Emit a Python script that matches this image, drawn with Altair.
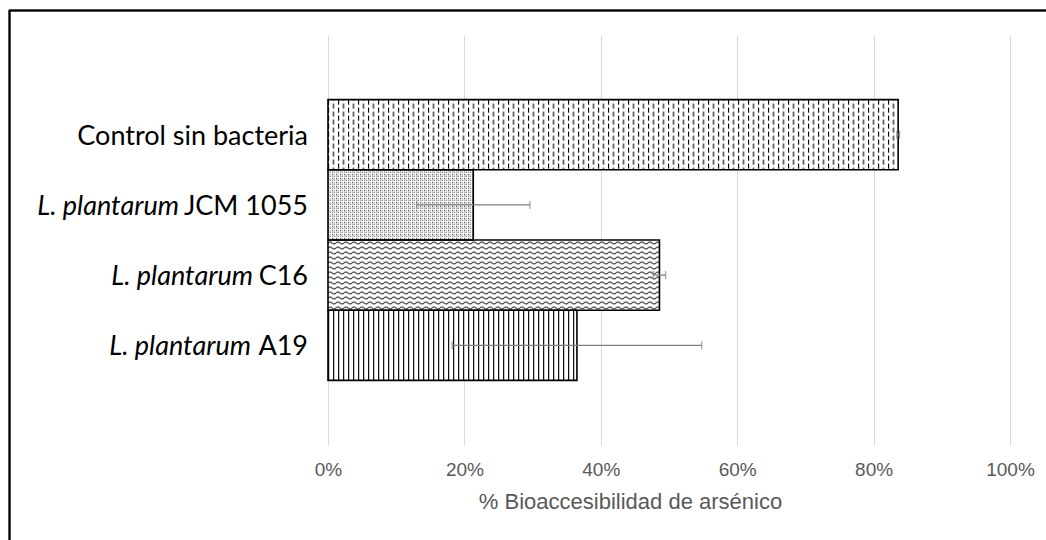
import urllib.parse

import altair as alt
import pandas as pd

# Bar categories (top to bottom), split into italic species part and plain strain part
categories = ["Control sin bacteria", "L. plantarum JCM 1055", "L. plantarum C16", "L. plantarum A19"]
label_italic = ["", "L. plantarum", "L. plantarum", "L. plantarum"]
label_plain = ["Control sin bacteria", "JCM 1055", "C16", "A19"]

# Arsenic bioaccessibility (fraction) and its standard deviation
values = [0.836, 0.213, 0.486, 0.365]
errors = [0.002, 0.083, 0.009, 0.183]

x_ticks = [0, 0.2, 0.4, 0.6, 0.8, 1.0]

FONT = "Lato"
LABEL_SIZE = 27
AXIS_FONT = "Liberation Sans"
GRAY = "#595959"


def pattern_uri(tile_w, tile_h, body):
    """Fill texture as an SVG data URI, tiled at fixed pixel size over a white ground."""
    svg = (
        "<svg xmlns='http://www.w3.org/2000/svg' width='100%' height='100%'>"
        f"<defs><pattern id='p' width='{tile_w}' height='{tile_h}' patternUnits='userSpaceOnUse'>"
        f"{body}</pattern></defs>"
        "<rect width='100%' height='100%' fill='white'/>"
        "<rect width='100%' height='100%' fill='url(#p)'/></svg>"
    )
    return "data:image/svg+xml;charset=utf-8," + urllib.parse.quote(svg)


patterns = [
    # dashed vertical
    pattern_uri(10, 8, "<path d='M0.5 0V5M5.5 4V8M5.5 0V1' stroke='#000' stroke-width='1.1'/>"),
    # fine dots
    pattern_uri(4, 4, "<rect x='0' y='0' width='1' height='1' fill='#111'/>"
                      "<rect x='2' y='2' width='1' height='1' fill='#111'/>"
                      "<rect x='2' y='0' width='1' height='1' fill='#888'/>"
                      "<rect x='0' y='2' width='1' height='1' fill='#888'/>"),
    # waves
    pattern_uri(8, 5, "<path d='M0 3 Q2 1 4 3 T8 3' fill='none' stroke='#111' stroke-width='1'/>"),
    # vertical lines
    pattern_uri(5, 4, "<rect x='0' y='0' width='1.1' height='4' fill='#000'/>"),
]

df = pd.DataFrame({
    "cat": categories,
    "ital": label_italic,
    "plain": label_plain,
    "val": values,
    "err": errors,
    "pat": patterns,
})

x_scale = alt.Scale(domain=[0, 1], nice=False, zero=True)
y_enc = alt.Y("cat:N", sort=categories, axis=None,
              scale=alt.Scale(paddingInner=0, paddingOuter=0.92))

base = alt.Chart(df)

textures = base.mark_image(aspect=False).encode(
    x=alt.X(
        "val:Q", scale=x_scale,
        axis=alt.Axis(
            values=x_ticks, format=".0%", grid=True, gridColor="#d9d9d9", gridWidth=1,
            domain=False, ticks=False, labelColor=GRAY, labelFont=AXIS_FONT,
            labelFontSize=19, labelPadding=15, labelAlign="center", labelFlush=False,
            title="% Bioaccesibilidad de arsénico",
            titleColor=GRAY, titleFont=AXIS_FONT, titleFontSize=22, titleFontWeight="normal",
            titlePadding=12, titleX=302, titleAlign="center", titleAnchor="start",
        ),
    ),
    y=y_enc,
    url="pat:N",
)

outlines = base.mark_bar(fill="white", fillOpacity=0, stroke="black", strokeWidth=1.6).encode(
    x=alt.X("val:Q", scale=x_scale), y=y_enc
)

err_base = base.transform_calculate(lo="datum.val - datum.err", hi="datum.val + datum.err")
err_line = err_base.mark_rule(color="#7f7f7f", strokeWidth=1.3).encode(
    x=alt.X("lo:Q", scale=x_scale), x2="hi:Q", y=y_enc
)
cap_lo = err_base.mark_tick(color="#7f7f7f", thickness=1.3, size=8, orient="vertical").encode(
    x=alt.X("lo:Q", scale=x_scale), y=y_enc
)
cap_hi = err_base.mark_tick(color="#7f7f7f", thickness=1.3, size=8, orient="vertical").encode(
    x=alt.X("hi:Q", scale=x_scale), y=y_enc
)

# Category labels: plain part right-aligned left of the plot, italic species name before it
plain_text = base.mark_text(
    align="right", baseline="middle", font=FONT, fontSize=LABEL_SIZE, color="black", dy=2
).encode(x=alt.value(-20), y=y_enc, text="plain:N")

strain_gap = {"JCM 1055": 129, "C16": 55, "A19": 57}
italic_layers = [
    base.transform_filter(alt.datum.plain == s).mark_text(
        align="right", baseline="middle", font=FONT, fontSize=LABEL_SIZE, fontStyle="italic",
        color="black", dy=2, dx=-gap,
    ).encode(x=alt.value(-20), y=y_enc, text="ital:N")
    for s, gap in strain_gap.items()
]

# Outer frame lines (top and left edges)
frame_top = alt.Chart(df).mark_rule(color="black", strokeWidth=1.5).encode(
    x=alt.value(-319), x2=alt.value(740), y=alt.value(-24.5)
)
frame_left = alt.Chart(df).mark_rule(color="black", strokeWidth=1.5).encode(
    x=alt.value(-318.5), y=alt.value(-25), y2=alt.value(520)
)

chart = alt.layer(
    textures, outlines, err_line, cap_lo, cap_hi, plain_text, *italic_layers,
    frame_top, frame_left,
).properties(
    width=682, height=410,
    autosize=alt.AutoSizeParams(type="none"),
    padding={"left": 328, "top": 35, "right": 36, "bottom": 95},
    background="white",
).configure_view(stroke=None)

chart.save("out.html", embed_options={"renderer": "svg", "actions": False})
